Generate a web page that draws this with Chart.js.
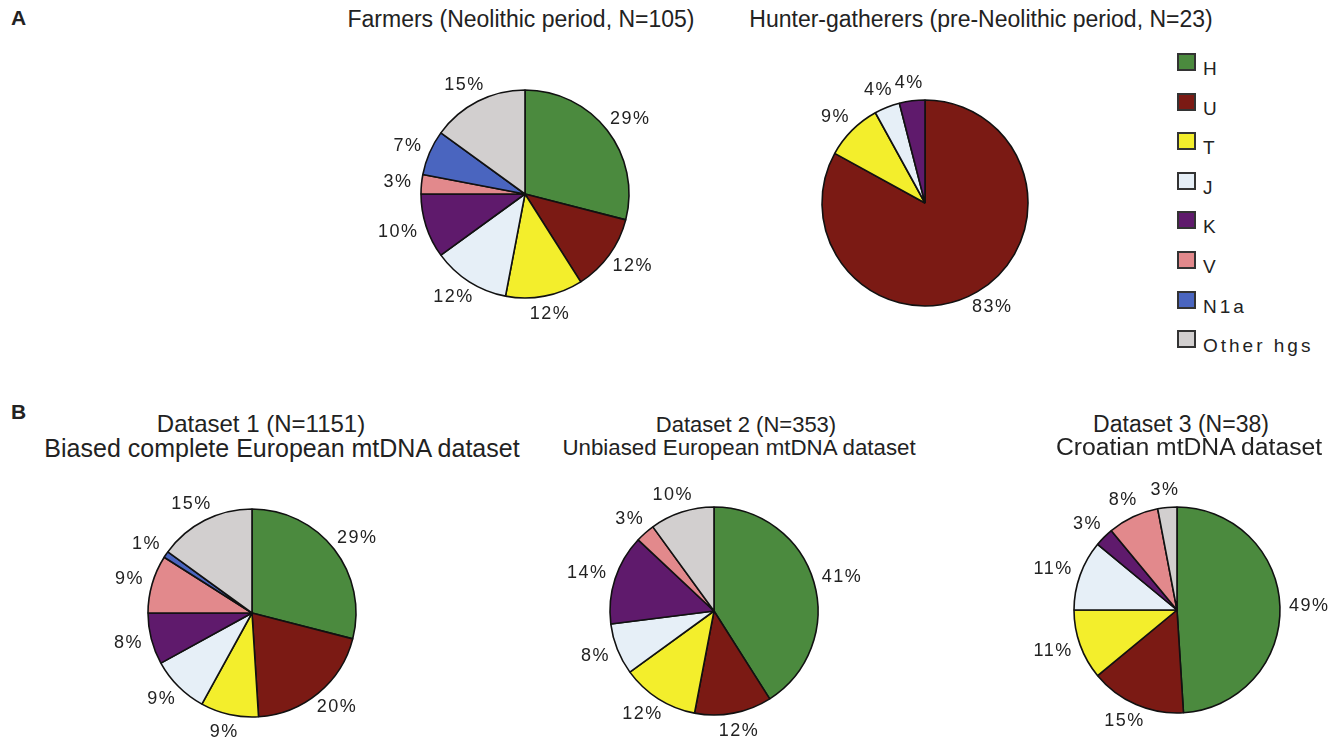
<!DOCTYPE html>
<html>
<head>
<meta charset="utf-8">
<script src="https://cdn.jsdelivr.net/npm/chart.js@4.4.0/dist/chart.umd.min.js"></script>
<style>
  body { margin: 0; background: #fff; }
  #page { position: relative; width: 1337px; height: 739px; overflow: hidden; font-family: "Liberation Sans", Arial, sans-serif; color: #222; }
  canvas { position: absolute; }
  .panel { position: absolute; font-weight: bold; font-size: 21px; }
  .title { position: absolute; white-space: nowrap; transform: translateX(-50%); }
  .legend-item { position: absolute; left: 1177px; height: 30px; }
  .legend-item .box { position: absolute; left: 0; top: 0; width: 15px; height: 14px; border: 2px solid #333; }
  .legend-item .txt { position: absolute; left: 26px; top: 5px; font-size: 19px; letter-spacing: 3px; white-space: nowrap; }
</style>
</head>
<body>
<div id="page">
  <div class="panel" style="left:11px; top:6px;">A</div>
  <div class="panel" style="left:11px; top:400px;">B</div>
</div>
<script>
// haplogroup categories and the colour used for each one
const haplogroups = ['H', 'U', 'T', 'J', 'K', 'V', 'N1a', 'Other hgs'];
const colours = ['#4b8a3e', '#7b1a14', '#f3ee2c', '#e6eff7', '#5f1a6c', '#e2898c', '#4a65bf', '#d2cfcf'];

// percentages per haplogroup, same order as above
const farmers = [29, 12, 12, 12, 10, 3, 7, 15];
const hunters = [0, 83, 9, 4, 4, 0, 0, 0];
const dataset1 = [29, 20, 9, 9, 8, 9, 1, 15];
const dataset2 = [41, 12, 12, 8, 14, 3, 0, 10];
const dataset3 = [49, 15, 11, 11, 3, 8, 0, 3];

const page = document.getElementById('page');

// percent labels just outside each slice
const pctLabels = {
    id: 'pctLabels',
    afterDatasetsDraw(chart) {
        const ctx = chart.ctx;
        const meta = chart.getDatasetMeta(0);
        const values = chart.data.datasets[0].data;
        ctx.save();
        ctx.font = '18px "Liberation Sans", Arial, sans-serif';
        ctx.letterSpacing = '1.5px';
        ctx.fillStyle = '#222';
        ctx.textAlign = 'center';
        ctx.textBaseline = 'middle';
        meta.data.forEach((arc, i) => {
            const v = values[i];
            if (!v) return;
            const mid = (arc.startAngle + arc.endAngle) / 2;
            const cos = Math.cos(mid), sin = Math.sin(mid);
            const text = v + '%';
            const w = ctx.measureText(text).width;
            const r = arc.outerRadius + 9;
            ctx.fillText(text, arc.x + cos * r + cos * w / 2, arc.y + sin * r + sin * 9);
        });
        ctx.restore();
    }
};

function makePie(values, cx, cy, radius) {
    const W = 340, H = 300;
    const canvas = document.createElement('canvas');
    canvas.width = W;
    canvas.height = H;
    canvas.style.left = (cx - W / 2) + 'px';
    canvas.style.top = (cy - H / 2) + 'px';
    page.appendChild(canvas);
    return new Chart(canvas, {
        type: 'pie',
        data: {
            labels: haplogroups,
            datasets: [{
                data: values,
                backgroundColor: colours,
                borderColor: '#111',
                borderWidth: (c) => c.raw ? 1.6 : 0,
                radius: radius
            }]
        },
        options: {
            responsive: false,
            animation: false,
            events: [],
            plugins: { legend: { display: false }, tooltip: { enabled: false } }
        },
        plugins: [pctLabels]
    });
}

makePie(farmers, 525, 194, 104);
makePie(hunters, 925, 203, 103);
makePie(dataset1, 252, 613, 104);
makePie(dataset2, 714, 611, 104);
makePie(dataset3, 1177, 610, 103);

function addTitle(text, cx, top, size) {
    const d = document.createElement('div');
    d.className = 'title';
    d.style.left = cx + 'px';
    d.style.top = top + 'px';
    d.style.fontSize = size + 'px';
    d.textContent = text;
    page.appendChild(d);
}

addTitle('Farmers (Neolithic period, N=105)', 521, 6, 23);
addTitle('Hunter-gatherers (pre-Neolithic period, N=23)', 981, 6, 23);
addTitle('Dataset 1 (N=1151)', 261, 410, 24);
addTitle('Biased complete European mtDNA dataset', 282, 434, 25);
addTitle('Dataset 2 (N=353)', 746, 412, 22);
addTitle('Unbiased European mtDNA dataset', 739, 435, 22.3);
addTitle('Dataset 3 (N=38)', 1181, 411, 23);
addTitle('Croatian mtDNA dataset', 1189, 433, 24.7);

// legend, one swatch per haplogroup
haplogroups.forEach((name, i) => {
    const item = document.createElement('div');
    item.className = 'legend-item';
    item.style.top = (53 + i * 39.6) + 'px';
    item.innerHTML = '<div class="box"></div><div class="txt"></div>';
    item.querySelector('.box').style.background = colours[i];
    item.querySelector('.txt').textContent = name;
    page.appendChild(item);
});
</script>
</body>
</html>
